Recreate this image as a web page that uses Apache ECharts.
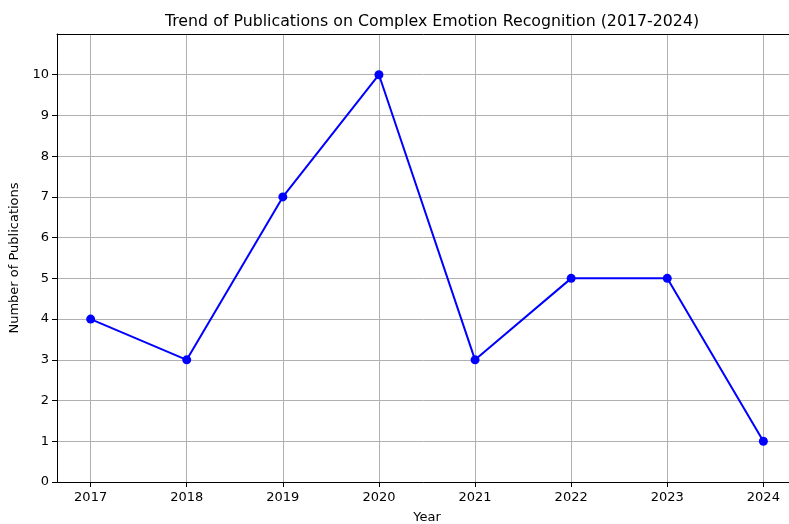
<!DOCTYPE html>
<html>
<head>
<meta charset="utf-8">
<script src="https://cdn.jsdelivr.net/npm/echarts@6/dist/echarts.min.js"></script>
<style>html,body{margin:0;padding:0;background:#fff}#c{width:789px;height:524px}</style>
</head>
<body>
<div id="c"></div>
<script>
const years = [2017, 2018, 2019, 2020, 2021, 2022, 2023, 2024];
const publications = [4, 3, 7, 10, 3, 5, 5, 1];
const yTicks = [0, 1, 2, 3, 4, 5, 6, 7, 8, 9, 10];

const chart = echarts.init(document.getElementById('c'), null, {renderer: 'canvas'});
const font = 'DejaVu Sans';
chart.setOption({
  animation: false,
  backgroundColor: '#ffffff',
  title: {
    text: 'Trend of Publications on Complex Emotion Recognition (2017-2024)',
    left: 427, top: 9, textAlign: 'center',
    textStyle: {fontFamily: font, fontSize: 15.8, fontWeight: 'normal', color: '#000'}
  },
  grid: {left: 57, top: 34, width: 740, bottom: 42, containLabel: false, outerBoundsMode: 'none'},
  xAxis: [{
    type: 'value', min: 2016.65, max: 2024.35,
    name: 'Year', nameLocation: 'middle', nameGap: 29,
    nameTextStyle: {fontFamily: font, fontSize: 13, color: '#000'},
    axisLine: {show: true, lineStyle: {color: '#000', width: 1}},
    axisTick: {show: true, length: 5, customValues: years, lineStyle: {color: '#000'}},
    axisLabel: {customValues: years, margin: 9, fontFamily: font, fontSize: 13, color: '#000', formatter: v => String(v)},
    splitLine: {show: true, customValues: years, lineStyle: {color: '#b0b0b0', width: 1}}
  }, {
    type: 'value', position: 'top', min: 0, max: 1,
    axisLine: {show: true, lineStyle: {color: '#000', width: 1}},
    axisTick: {show: false}, axisLabel: {show: false}, splitLine: {show: false}
  }],
  yAxis: {
    type: 'value', min: 0, max: 11, interval: 1,
    name: 'Number of Publications', nameLocation: 'middle', nameGap: 29, nameRotate: 90,
    nameTextStyle: {fontFamily: font, fontSize: 13, color: '#000'},
    axisLine: {show: true, lineStyle: {color: '#000', width: 1}},
    axisTick: {show: true, length: 5, customValues: yTicks, lineStyle: {color: '#000'}},
    axisLabel: {customValues: yTicks, margin: 8, fontFamily: font, fontSize: 13, color: '#000'},
    splitLine: {show: true, lineStyle: {color: '#b0b0b0', width: 1}}
  },
  series: [{
    type: 'line', xAxisIndex: 0,
    data: years.map((y, i) => [y, publications[i]]),
    lineStyle: {color: '#0000ff', width: 2},
    itemStyle: {color: '#0000ff'},
    symbol: 'circle', symbolSize: 9, showSymbol: true
  }]
});
</script>
</body>
</html>
